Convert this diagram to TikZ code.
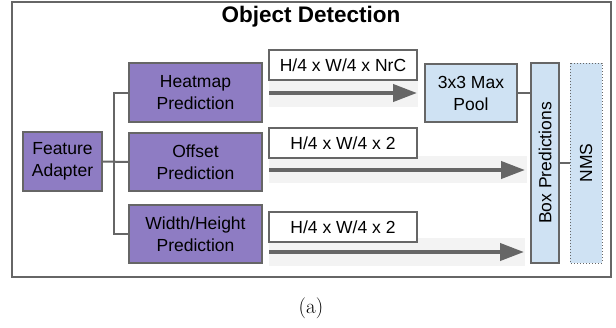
\documentclass[tikz,border=0pt]{standalone}
\usepackage{fontspec}
\newfontfamily\arial{Liberation Sans}
\usetikzlibrary{arrows.meta}
\definecolor{purp}{HTML}{8E7CC3}
\definecolor{lblue}{HTML}{CFE2F3}
\definecolor{band}{HTML}{F3F3F3}
\definecolor{dgray}{HTML}{666666}
\tikzset{
  pbox/.style={draw=dgray, line width=1.3pt, fill=purp, inner sep=0pt, align=center,
    font=\arial\fontsize{17.5}{22}\selectfont},
  bbox/.style={draw=dgray, line width=1.3pt, fill=lblue, inner sep=0pt, align=center,
    font=\arial\fontsize{17.5}{22}\selectfont},
  lbox/.style={draw=dgray, line width=1.3pt, fill=white, inner sep=0pt,
    minimum width=148pt, minimum height=30pt, font=\arial\fontsize{17.5}{22}\selectfont},
  conn/.style={draw=dgray, line width=2pt},
  bigarrow/.style={draw=dgray, line width=4pt, -{Triangle[length=24pt,width=17pt]}},
}
\begin{document}
\begin{tikzpicture}[x=1pt,y=-1pt]
\useasboundingbox (0,0) rectangle (616,327);
% outer frame
\draw[draw=dgray, line width=1.5pt] (12,2) rectangle (611,277);
\node[font=\arial\bfseries\fontsize{22.5}{26}\selectfont] (title) at (311,17) {Object Detection};
% bands
\fill[band] (269,80) rectangle (418,107);
\fill[band] (269,156) rectangle (527,183);
\fill[band] (269,238) rectangle (525,266);
% nodes
\node[pbox, minimum width=79pt, minimum height=59pt] (fa) at (62.5,161.5) {Feature\\Adapter};
\node[pbox, minimum width=133pt, minimum height=59pt] (hm) at (195.5,92.5) {Heatmap\\Prediction};
\node[pbox, minimum width=133pt, minimum height=58pt] (off) at (195.5,162) {Offset\\Prediction};
\node[pbox, minimum width=133pt, minimum height=58pt] (wh) at (195.5,234) {Width/Height\\Prediction};
\node[lbox] (l1) at (343,65) {H/4 x W/4 x NrC};
\node[lbox] (l2) at (343,143) {H/4 x W/4 x 2};
\node[lbox] (l3) at (343,227) {H/4 x W/4 x 2};
\node[bbox, minimum width=92pt, minimum height=58pt] (mp) at (471,93) {3x3 Max\\Pool};
\node[bbox, rotate=90, minimum width=200pt, minimum height=28pt] (bp) at (545,163) {Box Predictions};
\node[draw=dgray, line width=1pt, dotted, fill=lblue, inner sep=0pt, rotate=90,
  minimum width=200pt, minimum height=32pt, font=\arial\fontsize{17.5}{22}\selectfont] (nms) at (586,163) {NMS};
% connectors
\coordinate (a1s) at (269,93);
\coordinate (a2s) at (269,170);
\coordinate (a3s) at (269,252);
\coordinate (a1e) at (417,93);
\coordinate (a2e) at (525,170);
\coordinate (a3e) at (524,252);
\draw[conn] (hm.west) -- ++(-14,0) coordinate (tt) |- (wh.west);
\draw[conn] (fa.east) -- (off.west);
\draw[conn] (mp.east) -- (mp.east -| bp.north);
\draw[conn] (bp.south) -- (nms.north);
\draw[bigarrow] (a1s) -- (a1e);
\draw[bigarrow] (a2s) -- (a2e);
\draw[bigarrow] (a3s) -- (a3e);
% caption
\node[font=\fontsize{21}{25}\selectfont] (cap) at (311,308) {(a)};
\end{tikzpicture}
\end{document}
